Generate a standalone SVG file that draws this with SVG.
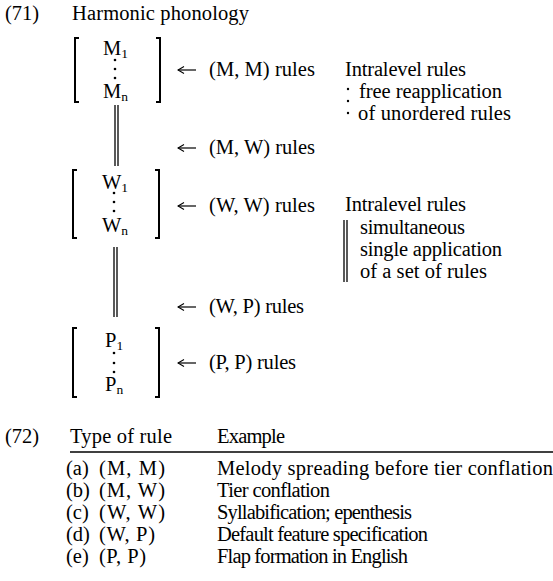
<svg xmlns="http://www.w3.org/2000/svg" width="553" height="581" viewBox="0 0 553 581">
<defs>
<marker id="ah" viewBox="0 0 8 8" refX="1" refY="4" markerWidth="8" markerHeight="8" markerUnits="userSpaceOnUse" orient="auto">
<path d="M7,0.5 L1,4 L7,7.5" fill="none" stroke="#000" stroke-width="1.1"/>
</marker>
</defs>
<style>
text{font-family:"Liberation Serif","Times New Roman",serif;font-size:20.5px;fill:#000}
.sub{font-size:13.5px}
.br{fill:none;stroke:#000;stroke-width:2}
.dl{stroke:#000;stroke-width:1.3}
.dot{fill:#000}
.arr{stroke:#000;stroke-width:1.2;marker-start:url(#ah)}
</style>
<rect width="553" height="581" fill="#fff"/>
<text x="5" y="20" textLength="34">(71)</text>
<text x="72" y="20" textLength="177">Harmonic phonology</text>

<g id="node-M">
<path class="br" d="M79,38 H75 V102 H79"/>
<path class="br" d="M156,38 H160 V102 H156"/>
<text x="103" y="55">M<tspan class="sub" dy="3">1</tspan></text>
<circle class="dot" cx="115" cy="60" r="1.3"/><circle class="dot" cx="115" cy="69" r="1.3"/><circle class="dot" cx="115" cy="78" r="1.3"/>
<text x="103" y="98">M<tspan class="sub" dy="3">n</tspan></text>
</g>

<g id="node-W">
<path class="br" d="M77,170 H73 V238 H77"/>
<path class="br" d="M155,170 H159 V238 H155"/>
<text x="102" y="189">W<tspan class="sub" dy="3">1</tspan></text>
<circle class="dot" cx="114" cy="193" r="1.3"/><circle class="dot" cx="114" cy="202" r="1.3"/><circle class="dot" cx="114" cy="211" r="1.3"/>
<text x="102" y="232">W<tspan class="sub" dy="3">n</tspan></text>
</g>

<g id="node-P">
<path class="br" d="M77,328 H73 V397 H77"/>
<path class="br" d="M155,328 H159 V397 H155"/>
<text x="105" y="347">P<tspan class="sub" dy="3">1</tspan></text>
<circle class="dot" cx="114" cy="353" r="1.3"/><circle class="dot" cx="114" cy="363" r="1.3"/><circle class="dot" cx="114" cy="372" r="1.3"/>
<text x="105" y="391">P<tspan class="sub" dy="3">n</tspan></text>
</g>

<g id="connectors">
<line class="dl" x1="115" y1="105" x2="115" y2="166"/>
<line class="dl" x1="118" y1="105" x2="118" y2="166"/>
<line class="dl" x1="114" y1="247" x2="114" y2="317"/>
<line class="dl" x1="117" y1="247" x2="117" y2="317"/>
<line class="arr" x1="178" y1="70" x2="196" y2="70"/>
<line class="arr" x1="178" y1="148" x2="196" y2="148"/>
<line class="arr" x1="178" y1="206" x2="196" y2="206"/>
<line class="arr" x1="178" y1="307" x2="196" y2="307"/>
<line class="arr" x1="178" y1="363" x2="196" y2="363"/>
</g>

<g id="labels">
<text x="209" y="76" textLength="106">(M, M) rules</text>
<text x="209" y="154" textLength="106">(M, W) rules</text>
<text x="209" y="212" textLength="106">(W, W) rules</text>
<text x="209" y="313" textLength="95">(W, P) rules</text>
<text x="209" y="369" textLength="87">(P, P) rules</text>
</g>

<g id="note1">
<text x="345" y="76" textLength="121">Intralevel rules</text>
<circle class="dot" cx="348" cy="89" r="1.2"/><circle class="dot" cx="348" cy="101" r="1.2"/><circle class="dot" cx="348" cy="113" r="1.2"/>
<text x="359" y="98" textLength="143">free reapplication</text>
<text x="358" y="120" textLength="153">of unordered rules</text>
</g>

<g id="note2">
<text x="345" y="211" textLength="121">Intralevel rules</text>
<line class="dl" x1="344" y1="220" x2="344" y2="282"/>
<line class="dl" x1="347" y1="220" x2="347" y2="282"/>
<text x="360" y="234" textLength="105">simultaneous</text>
<text x="360" y="256" textLength="142">single application</text>
<text x="360" y="278" textLength="127">of a set of rules</text>
</g>

<g id="table">
<text x="5" y="443" textLength="34">(72)</text>
<text x="70" y="443" textLength="102">Type of rule</text>
<text x="217" y="443" textLength="68">Example</text>
<line x1="70" y1="452" x2="553" y2="452" stroke="#000" stroke-width="1.6"/>
<text x="66" y="475">(a)</text><text x="99" y="475" textLength="66">(M, M)</text><text x="217" y="475" textLength="336">Melody spreading before tier conflation</text>
<text x="66" y="497">(b)</text><text x="99" y="497" textLength="66">(M, W)</text><text x="217" y="497" textLength="113">Tier conflation</text>
<text x="66" y="519">(c)</text><text x="99" y="519" textLength="66">(W, W)</text><text x="217" y="519" textLength="195">Syllabification; epenthesis</text>
<text x="66" y="541">(d)</text><text x="99" y="541" textLength="56">(W, P)</text><text x="217" y="541" textLength="211">Default feature specification</text>
<text x="66" y="563">(e)</text><text x="99" y="563" textLength="47">(P, P)</text><text x="217" y="563" textLength="191">Flap formation in English</text>
</g>
</svg>
